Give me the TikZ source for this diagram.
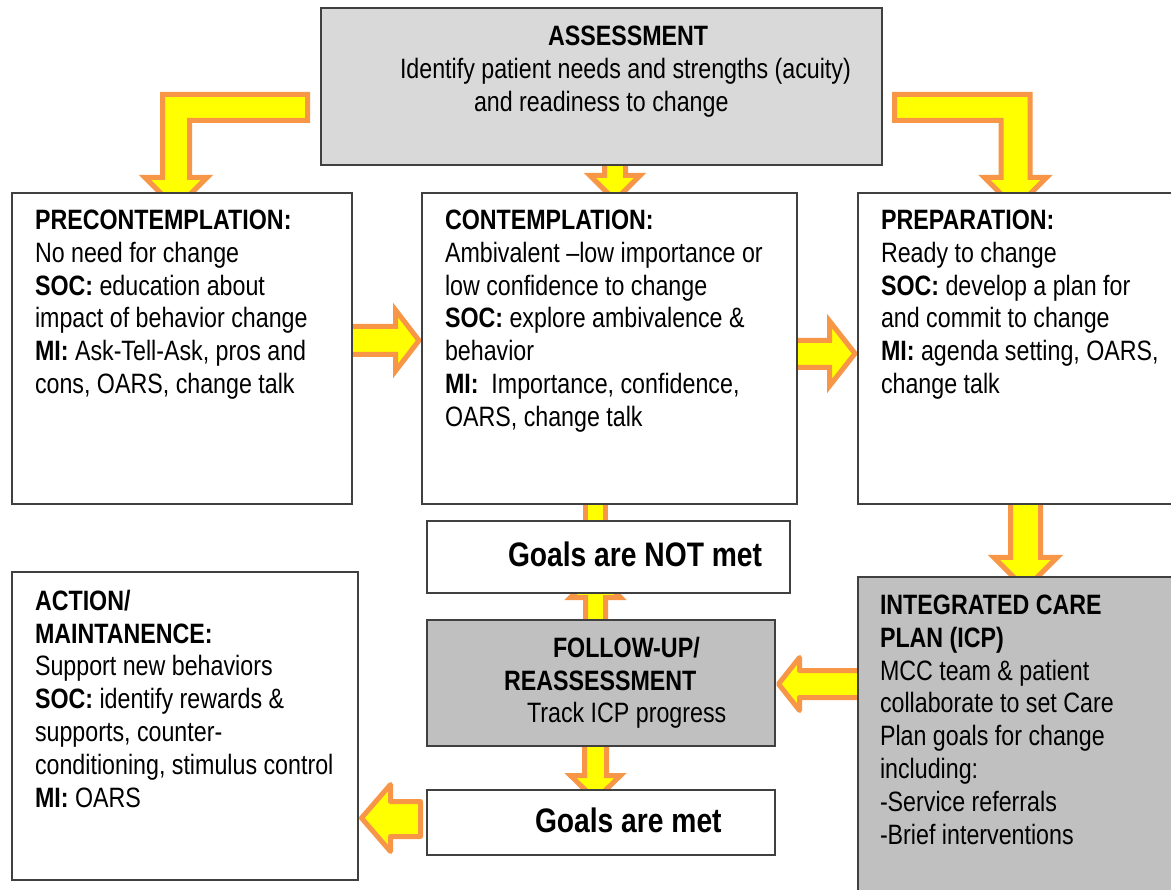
\documentclass[tikz,border=0pt]{standalone}
\usepackage{fontspec}
\setmainfont{Liberation Sans}[FakeStretch=0.83]
\definecolor{boxline}{HTML}{404040}
\definecolor{lightgray}{HTML}{D9D9D9}
\definecolor{midgray}{HTML}{C0C0C0}
\definecolor{arrowyellow}{HTML}{FFFF00}
\definecolor{arroworange}{HTML}{F79646}
\tikzset{
  box/.style={draw=boxline, line width=1.6pt, fill=white, inner sep=0pt, outer sep=0pt, anchor=north west},
  txt/.style={anchor=north west, inner sep=0pt, outer sep=0pt, align=left, font=\fontsize{28}{32.8}\selectfont},
  bigtxt/.style={anchor=north west, inner sep=0pt, outer sep=0pt, font=\fontsize{34}{40}\selectfont\bfseries},
  barrow/.style={fill=arrowyellow, draw=arroworange, line width=5pt, line join=miter},
  barrowr/.style={barrow, line join=round}
}
\begin{document}
\begin{tikzpicture}[x=1pt,y=-1pt]
\useasboundingbox (0,0) rectangle (1171,890);
% block arrows (behind boxes)
\draw[barrow] (307.5,94.5) -- (162.5,94.5) -- (162.5,177.5) -- (145,177.5) -- (176,208.5) -- (207,177.5) -- (189.5,177.5) -- (189.5,120.5) -- (307.5,120.5) -- cycle;
\draw[barrow] (894.5,94.5) -- (1030,94.5) -- (1030,177.5) -- (1046.5,177.5) -- (1015.5,208.5) -- (984.5,177.5) -- (1001,177.5) -- (1001,120.5) -- (894.5,120.5) -- cycle;
\draw[barrow] (604.5,160) -- (604.5,175.5) -- (590,175.5) -- (615,200.5) -- (640,175.5) -- (625.5,175.5) -- (625.5,160) -- cycle;
\draw[barrow] (345,326.5) -- (395.5,326.5) -- (395.5,310) -- (419,340.5) -- (395.5,371) -- (395.5,354.5) -- (345,354.5) -- cycle;
\draw[barrow] (790,340.5) -- (829.5,340.5) -- (829.5,321) -- (855,353.5) -- (829.5,386) -- (829.5,367.5) -- (790,367.5) -- cycle;
\draw[barrow] (1010.5,497) -- (1010.5,557.5) -- (994,557.5) -- (1025.5,589) -- (1057,557.5) -- (1040.5,557.5) -- (1040.5,497) -- cycle;
\draw[barrow] (585.5,498) rectangle (605.5,527);
\draw[barrow] (585.5,626) -- (585.5,597.5) -- (570.5,597.5) -- (595.5,573) -- (620.5,597.5) -- (605.5,597.5) -- (605.5,626) -- cycle;
\draw[barrow] (584.5,740) -- (584.5,775.5) -- (570.5,775.5) -- (595.5,800) -- (620.5,775.5) -- (606.5,775.5) -- (606.5,740) -- cycle;
\draw[barrowr] (865,670.5) -- (799.5,670.5) -- (799.5,657.5) -- (778.5,684) -- (799.5,710.5) -- (799.5,697.5) -- (865,697.5) -- cycle;
\draw[barrowr] (420.5,801.5) -- (390.5,801.5) -- (390.5,784.5) -- (361.5,818) -- (390.5,851.5) -- (390.5,836.5) -- (420.5,836.5) -- cycle;
% boxes
\node[box, fill=lightgray, minimum width=561pt, minimum height=157pt] (assess) at (321,8) {};
\node[box, minimum width=340pt, minimum height=311pt] (pre) at (12,193) {};
\node[box, minimum width=375pt, minimum height=311pt] (con) at (422,193) {};
\node[box, minimum width=316pt, minimum height=311pt] (prep) at (858,193) {};
\node[box, minimum width=363pt, minimum height=72pt] (notmet) at (427,521) {};
\node[box, minimum width=346pt, minimum height=308pt] (action) at (12,572) {};
\node[box, fill=midgray, minimum width=348pt, minimum height=126pt] (follow) at (427,620) {};
\node[box, minimum width=348pt, minimum height=65pt] (met) at (427,790) {};
\node[box, fill=midgray, minimum width=316pt, minimum height=316pt] (icp) at (858,577) {};
% texts
\node[txt] (assesstxt) at (400,26) {\hspace*{148pt}\textbf{ASSESSMENT}\\Identify patient needs and strengths (acuity)\\\hspace*{74pt}and readiness to change};
\node[txt] (pretxt) at (35,210) {\textbf{PRECONTEMPLATION:}\\No need for change\\\textbf{SOC:} education about\\impact of behavior change\\\textbf{MI:} Ask-Tell-Ask, pros and\\cons, OARS, change talk};
\node[txt] (contxt) at (445,210) {\textbf{CONTEMPLATION:}\\Ambivalent –low importance or\\low confidence to change\\\textbf{SOC:} explore ambivalence \&\\behavior\\\textbf{MI:}\ \ Importance, confidence,\\OARS, change talk};
\node[txt] (preptxt) at (881,210) {\textbf{PREPARATION:}\\Ready to change\\\textbf{SOC:} develop a plan for\\and commit to change\\\textbf{MI:} agenda setting, OARS,\\change talk};
\node[bigtxt] (notmettxt) at (508,542) {Goals are NOT met};
\node[txt] (actiontxt) at (35,590) {\textbf{ACTION/}\\\textbf{MAINTANENCE:}\\Support new behaviors\\\textbf{SOC:} identify rewards \&\\supports, counter-\\conditioning, stimulus control\\\textbf{MI:} OARS};
\node[txt] (followtxt) at (504,637) {\hspace*{49pt}\textbf{FOLLOW-UP/}\\\textbf{REASSESSMENT}\\\hspace*{23pt}Track ICP progress};
\node[bigtxt] (mettxt) at (535,808) {Goals are met};
\node[txt] (icptxt) at (880,595) {\textbf{INTEGRATED CARE}\\\textbf{PLAN (ICP)}\\MCC team \& patient\\collaborate to set Care\\Plan goals for change\\including:\\-Service referrals\\-Brief interventions};
\end{tikzpicture}
\end{document}
